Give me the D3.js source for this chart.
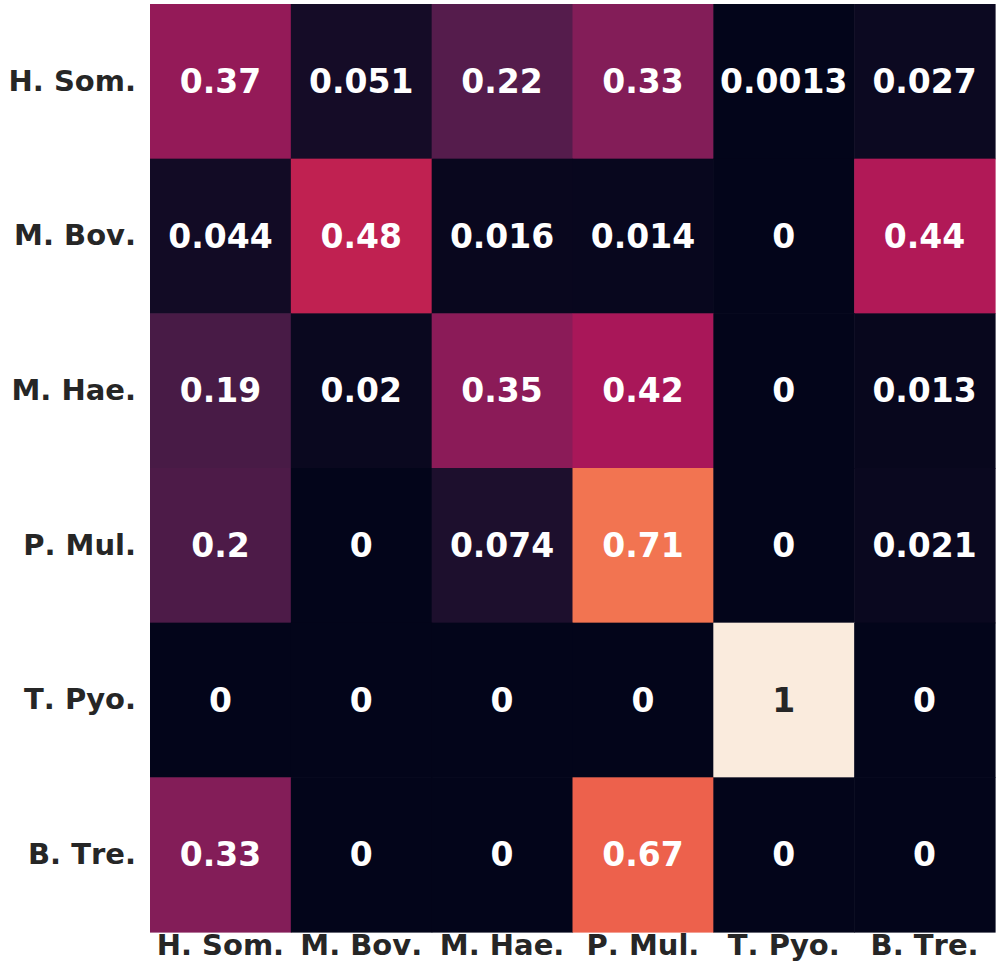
<!DOCTYPE html>
<html><head><meta charset="utf-8">
<script src="https://cdn.jsdelivr.net/npm/d3@7"></script>
<style>body{margin:0;background:#fff}svg{display:block}text{font-kerning:none}</style>
</head><body>
<svg id="c" width="1000" height="961"></svg>
<script>
const rows = ["H. Som.","M. Bov.","M. Hae.","P. Mul.","T. Pyo.","B. Tre."];
const cols = ["H. Som.","M. Bov.","M. Hae.","P. Mul.","T. Pyo.","B. Tre."];
const values = [
  [0.37, 0.051, 0.22, 0.33, 0.0013, 0.027],
  [0.044, 0.48, 0.016, 0.014, 0, 0.44],
  [0.19, 0.02, 0.35, 0.42, 0, 0.013],
  [0.2, 0, 0.074, 0.71, 0, 0.021],
  [0, 0, 0, 0, 1, 0],
  [0.33, 0, 0, 0.67, 0, 0]
];
const rocketStops = ["#03051a","#35193e","#701f57","#ad1759","#e13342","#f37651","#f6b48f","#faebdd"];

const svg = d3.select("#c");
const x = d3.scaleBand().domain(cols).range([150, 995]);
const y = d3.scaleBand().domain(rows).range([4, 932]);
const color = d3.scaleLinear()
  .domain(rocketStops.map((_, i) => i / (rocketStops.length - 1)))
  .range(rocketStops).interpolate(d3.interpolateRgb).clamp(true);
const fmt = d3.format(".2~g");

function relLum(c) {
  const rgb = d3.rgb(c);
  const f = v => { v /= 255; return v <= 0.03928 ? v / 12.92 : Math.pow((v + 0.055) / 1.055, 2.4); };
  return 0.2126 * f(rgb.r) + 0.7152 * f(rgb.g) + 0.0722 * f(rgb.b);
}

const cells = [];
values.forEach((r, i) => r.forEach((v, j) => cells.push({r: rows[i], c: cols[j], v})));

svg.append("g").selectAll("rect").data(cells).join("rect")
  .attr("x", d => x(d.c)).attr("y", d => y(d.r))
  .attr("width", x.bandwidth() + 0.6).attr("height", y.bandwidth() + 0.6)
  .attr("fill", d => color(d.v));

svg.append("g").selectAll("text").data(cells).join("text")
  .attr("x", d => x(d.c) + x.bandwidth() / 2)
  .attr("y", d => y(d.r) + y.bandwidth() / 2)
  .attr("text-anchor", "middle").attr("dominant-baseline", "central")
  .attr("font-family", "DejaVu Sans").attr("font-weight", "bold").attr("font-size", 33)
  .attr("fill", d => relLum(color(d.v)) > 0.408 ? "#262626" : "#ffffff")
  .text(d => fmt(d.v));

const yAxis = svg.append("g").attr("transform", "translate(150,0)")
  .call(d3.axisLeft(y).tickSize(0).tickPadding(14));
yAxis.select(".domain").remove();
yAxis.selectAll("text").attr("font-family", "DejaVu Sans").attr("font-weight", "bold")
  .attr("font-size", 29).attr("fill", "#262626");

const xAxis = svg.append("g").attr("transform", "translate(0,932)")
  .call(d3.axisBottom(x).tickSize(0).tickPadding(2));
xAxis.select(".domain").remove();
xAxis.selectAll("text").attr("font-family", "DejaVu Sans").attr("font-weight", "bold")
  .attr("font-size", 29).attr("fill", "#262626");
</script>
</body></html>
